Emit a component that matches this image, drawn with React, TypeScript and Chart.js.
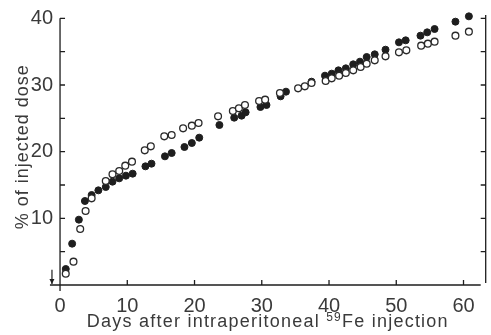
import React, { useEffect, useRef } from "react";
import { Chart, registerables } from "chart.js";

Chart.register(...registerables);

// ---- data ----
const filledDays = [0.85, 1.8, 2.8, 3.7, 4.7, 5.7, 6.8, 7.8, 8.8, 9.8, 10.8, 12.7, 13.6, 15.6, 16.6, 18.5, 19.6, 20.7, 23.7, 25.9, 27.0, 27.6, 29.8, 30.7, 32.8, 33.6, 37.4, 39.4, 40.4, 41.4, 42.5, 43.6, 44.6, 45.6, 46.8, 48.4, 50.4, 51.4, 53.6, 54.6, 55.7, 58.8, 60.8];
const filledValues = [2.4, 6.2, 9.8, 12.6, 13.5, 14.2, 14.7, 15.5, 16.0, 16.4, 16.7, 17.8, 18.2, 19.3, 19.8, 20.7, 21.3, 22.1, 24.0, 25.1, 25.4, 25.9, 26.7, 27.0, 28.3, 29.0, 30.5, 31.4, 31.7, 32.2, 32.5, 33.1, 33.5, 34.2, 34.6, 35.3, 36.4, 36.7, 37.4, 37.9, 38.4, 39.5, 40.3];

const openDays = [0.85, 2.0, 3.0, 3.8, 4.7, 6.8, 7.8, 8.8, 9.7, 10.7, 12.6, 13.5, 15.5, 16.6, 18.3, 19.6, 20.6, 23.5, 25.7, 26.6, 27.5, 29.6, 30.5, 32.7, 35.4, 36.4, 37.4, 39.5, 40.4, 41.5, 42.5, 43.6, 44.7, 45.6, 46.8, 48.4, 50.4, 51.5, 53.7, 54.7, 55.7, 58.8, 60.8];
const openValues = [1.7, 3.5, 8.4, 11.1, 13.0, 15.6, 16.6, 17.1, 17.9, 18.5, 20.2, 20.8, 22.3, 22.5, 23.5, 23.9, 24.3, 25.3, 26.1, 26.5, 27.0, 27.6, 27.8, 28.8, 29.5, 29.8, 30.3, 30.6, 31.0, 31.4, 31.8, 32.2, 32.7, 33.2, 33.7, 34.3, 34.9, 35.2, 35.9, 36.2, 36.5, 37.4, 38.0];

const xTickValues = [0, 10, 20, 30, 40, 50, 60];
const yTickValues = [10, 20, 30, 40];
const yMinorTickValues = [5, 15, 25, 35];
const rightTickValues = [5, 10, 15, 20, 25, 30, 35, 40];

const xTitleMain = "Days after intraperitoneal ";
const xTitleSup = "59";
const xTitleEnd = "Fe injection";
const yTitle = "% of injected dose";

// x axis line starts a little before day 0
const xAxisStart = -1.5;
// injection marker (data coordinates): arrow pointing down to day ~0
const arrowDay = -1.2;
const arrowFromValue = 2.3;
const arrowToValue = 0;

const INK = "#1e1e1e";
const TEXT = "#3a3a3a";
const FONT = "'Liberation Sans Narrow', 'Liberation Sans', Arial, sans-serif";

const axesPlugin = {
  id: "paperAxes",
  afterDraw(chart: any) {
    const ctx = chart.ctx as CanvasRenderingContext2D;
    const xs = chart.scales.x;
    const ys = chart.scales.y;
    const area = chart.chartArea;
    const y0 = ys.getPixelForValue(0);
    const x0 = xs.getPixelForValue(0);
    ctx.save();
    ctx.strokeStyle = INK;
    ctx.lineWidth = 1.3;
    ctx.beginPath();
    // x axis
    ctx.moveTo(xs.getPixelForValue(xAxisStart), y0);
    ctx.lineTo(area.right - 5, y0);
    // left y axis at x = 0
    ctx.moveTo(x0, ys.getPixelForValue(40));
    ctx.lineTo(x0, y0 + 6);
    // right axis
    ctx.moveTo(area.right, area.top);
    ctx.lineTo(area.right, y0 - 2);
    // x ticks (inward)
    xTickValues.forEach((v) => {
      if (v === 0) return;
      const px = xs.getPixelForValue(v);
      ctx.moveTo(px, y0);
      ctx.lineTo(px, y0 - 5);
    });
    // left y ticks
    [...yTickValues, ...yMinorTickValues].forEach((v) => {
      const py = ys.getPixelForValue(v);
      ctx.moveTo(x0, py);
      ctx.lineTo(x0 + 5, py);
    });
    // right ticks
    rightTickValues.forEach((v) => {
      const py = ys.getPixelForValue(v);
      ctx.moveTo(area.right, py);
      ctx.lineTo(area.right - 5, py);
    });
    ctx.stroke();

    // arrow
    const ax = xs.getPixelForValue(arrowDay);
    const ayTop = ys.getPixelForValue(arrowFromValue);
    const ayBot = ys.getPixelForValue(arrowToValue);
    ctx.lineWidth = 1.2;
    ctx.beginPath();
    ctx.moveTo(ax, ayTop);
    ctx.lineTo(ax, ayBot - 1);
    ctx.stroke();
    ctx.fillStyle = INK;
    ctx.beginPath();
    ctx.moveTo(ax - 2.5, ayBot - 6);
    ctx.lineTo(ax + 2.5, ayBot - 6);
    ctx.lineTo(ax, ayBot - 1);
    ctx.closePath();
    ctx.fill();

    // x title with superscript
    ctx.fillStyle = TEXT;
    ctx.textBaseline = "alphabetic";
    ctx.textAlign = "left";
    const mainFont = `18px ${FONT}`;
    const supFont = `12px ${FONT}`;
    (ctx as any).letterSpacing = "0px";
    ctx.font = mainFont;
    const wMain = ctx.measureText(xTitleMain).width;
    const wEnd = ctx.measureText(xTitleEnd).width;
    ctx.font = supFont;
    const wSup = ctx.measureText(xTitleSup).width;
    const target = 362;
    const nChars = xTitleMain.length + xTitleSup.length + xTitleEnd.length;
    const extra = Math.max(0, (target - (wMain + wSup + wEnd)) / nChars);
    (ctx as any).letterSpacing = `${extra}px`;
    const cx = (xs.getPixelForValue(xAxisStart) + area.right) / 2;
    let tx = cx - target / 2;
    const baseY = chart.height - 8;
    ctx.font = mainFont;
    ctx.fillText(xTitleMain, tx, baseY);
    tx += wMain + extra * xTitleMain.length;
    ctx.font = supFont;
    ctx.fillText(xTitleSup, tx, baseY - 6);
    tx += wSup + extra * xTitleSup.length;
    ctx.font = mainFont;
    ctx.fillText(xTitleEnd, tx, baseY);

    // y title, rotated
    (ctx as any).letterSpacing = "0px";
    ctx.font = mainFont;
    const wy = ctx.measureText(yTitle).width;
    const yTarget = 165;
    const extraY = Math.max(0, (yTarget - wy) / yTitle.length);
    (ctx as any).letterSpacing = `${extraY}px`;
    ctx.translate(28, (ys.getPixelForValue(40) + y0) / 2 - 5);
    ctx.rotate(-Math.PI / 2);
    ctx.textAlign = "center";
    ctx.fillText(yTitle, 0, 0);
    ctx.restore();
  },
};

export default function App() {
  const canvasRef = useRef<HTMLCanvasElement | null>(null);

  useEffect(() => {
    const canvas = canvasRef.current;
    if (!canvas) return;
    const chart = new Chart(canvas, {
      type: "scatter",
      data: {
        datasets: [
          {
            label: "open",
            data: openDays.map((d, i) => ({ x: d, y: openValues[i] })),
            backgroundColor: "#ffffff",
            borderColor: "#2a2a2a",
            borderWidth: 1.3,
            pointRadius: 3.4,
            clip: false as any,
          },
          {
            label: "filled",
            data: filledDays.map((d, i) => ({ x: d, y: filledValues[i] })),
            backgroundColor: INK,
            borderColor: INK,
            borderWidth: 1,
            pointRadius: 3.5,
            clip: false as any,
          },
        ],
      },
      options: {
        responsive: false,
        animation: false,
        devicePixelRatio: 1,
        layout: { padding: { top: 13, right: 5, left: 0, bottom: 0 } },
        plugins: { legend: { display: false }, tooltip: { enabled: false } },
        scales: {
          x: {
            type: "linear",
            min: -0.6,
            max: 63.3,
            grid: { display: false, drawTicks: false, tickLength: 0 },
            border: { display: false },
            afterBuildTicks: (s: any) => {
              s.ticks = xTickValues.map((v) => ({ value: v }));
            },
            afterFit: (s: any) => {
              s.height = 50;
            },
            ticks: {
              color: TEXT,
              padding: 9,
              maxRotation: 0,
              font: { family: FONT, size: 20 },
            },
          },
          y: {
            type: "linear",
            min: 0,
            max: 40.5,
            grid: { display: false, drawTicks: false, tickLength: 0 },
            border: { display: false },
            afterBuildTicks: (s: any) => {
              s.ticks = yTickValues.map((v) => ({ value: v }));
            },
            afterFit: (s: any) => {
              s.width = 56;
            },
            ticks: {
              color: TEXT,
              padding: 3,
              font: { family: FONT, size: 20 },
            },
          },
        },
      },
      plugins: [axesPlugin],
    });
    return () => chart.destroy();
  }, []);

  return (
    <div style={{ position: "absolute", left: 0, top: 0, width: 491, height: 335, background: "#fff" }}>
      <canvas ref={canvasRef} width={491} height={335} />
    </div>
  );
}
